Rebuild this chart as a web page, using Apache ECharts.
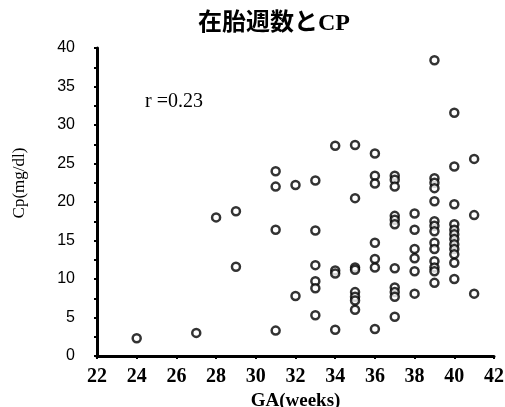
<!DOCTYPE html>
<html>
<head>
<meta charset="utf-8">
<script src="https://cdn.jsdelivr.net/npm/echarts@6/dist/echarts.min.js"></script>
<style>
html, body { margin: 0; padding: 0; background: #fff; }
#chart { width: 505px; height: 407px; }
</style>
</head>
<body>
<div id="chart"></div>
<script>
// 在胎週数 (weeks) and Cp (mg/dl)
var weeks = [24, 27, 28, 29, 29,
	31, 31, 31, 31, 32, 32,
	33, 33, 33, 33, 33, 33,
	34, 34, 34, 34,
	35, 35, 35, 35, 35, 35, 35, 35,
	36, 36, 36, 36, 36, 36, 36,
	37, 37, 37, 37, 37, 37, 37, 37, 37, 37, 37,
	38, 38, 38, 38, 38, 38,
	39, 39, 39, 39, 39, 39, 39, 39, 39, 39, 39, 39, 39, 39,
	40, 40, 40, 40, 40, 40, 40, 40, 40, 40, 40, 40,
	41, 41, 41];
var cpValues = [2.3, 3.0, 18.0, 18.8, 11.6,
	24.0, 22.0, 16.4, 3.3, 22.2, 7.8,
	22.8, 16.3, 11.8, 9.7, 8.8, 5.3,
	27.3, 11.1, 10.7, 3.4,
	27.4, 20.5, 11.5, 11.2, 8.3, 7.7, 7.2, 6.0,
	26.3, 23.4, 22.4, 14.7, 12.6, 11.5, 3.5,
	23.4, 22.9, 22.0, 18.2, 17.7, 17.1, 11.4, 8.9, 8.3, 7.7, 5.1,
	18.5, 16.4, 13.9, 12.7, 11.0, 8.1,
	38.4, 23.1, 22.5, 21.8, 20.1, 17.5, 16.9, 16.2, 14.7, 13.9, 12.3, 11.5, 11.0, 9.5,
	31.6, 24.6, 19.7, 17.1, 16.4, 15.8, 15.2, 14.5, 13.9, 13.2, 12.1, 10.0,
	25.6, 18.3, 8.1];
var titleText = '在胎週数とCP';
var rText = 'r =0.23';
var yName = 'Cp(mg/dl)';
var xName = 'GA(weeks)';

var points = weeks.map(function(w, i) {
	return [w, cpValues[i]];
});

var serif = "'Liberation Serif', 'DejaVu Serif', 'Noto Sans CJK JP', serif";

var myChart = echarts.init(document.getElementById('chart'));
var option = {
	animation : false,
	grid : { left : 97, right : 11, top : 48, bottom : 51, containLabel : false, outerBoundsMode : 'none' },
	graphic : [ {
		// 标题
		type : 'text',
		x : 274,
		y : 24,
		style : { text : titleText, font : 'bold 24px ' + serif, fill : '#000', align : 'center', verticalAlign : 'middle' }
	}, {
		type : 'text',
		left : 145,
		top : 92,
		style : { text : rText, font : '20px ' + serif, fill : '#000' }
	}, {
		// y轴名称
		type : 'text',
		x : 20,
		y : 183,
		rotation : Math.PI / 2,
		style : { text : yName, font : '17px ' + serif, fill : '#000', align : 'center', verticalAlign : 'middle' }
	} ],
	xAxis : {
		type : 'value',
		min : 22,
		max : 42,
		interval : 2,
		name : xName,
		nameLocation : 'middle',
		nameGap : 34,
		nameTextStyle : { fontFamily : serif, fontSize : 19, fontWeight : 'bold', color : '#000' },
		axisLine : { lineStyle : { color : '#000', width : 3 } },
		axisTick : { show : true, length : 3, lineStyle : { color : '#000', width : 2 } },
		axisLabel : { margin : 11, fontFamily : serif, fontSize : 20, fontWeight : 'bold', color : '#000' },
		splitLine : { show : false }
	},
	yAxis : {
		type : 'value',
		min : 0,
		max : 40,
		interval : 5,
		axisLine : { show : true, lineStyle : { color : '#000', width : 3 } },
		axisTick : { show : true, length : 3, lineStyle : { color : '#000', width : 2 } },
		minorTick : { show : true, splitNumber : 2, length : 3, lineStyle : { color : '#000', width : 2 } },
		axisLabel : { margin : 22, fontFamily : "'Liberation Sans', Arial, sans-serif", fontSize : 16, color : '#000' },
		splitLine : { show : false }
	},
	series : [ {
		type : 'scatter',
		data : points,
		symbol : 'circle',
		symbolSize : 8,
		itemStyle : { color : '#fff', borderColor : '#000', borderWidth : 2.5 }
	} ]
};
myChart.setOption(option);
</script>
</body>
</html>
